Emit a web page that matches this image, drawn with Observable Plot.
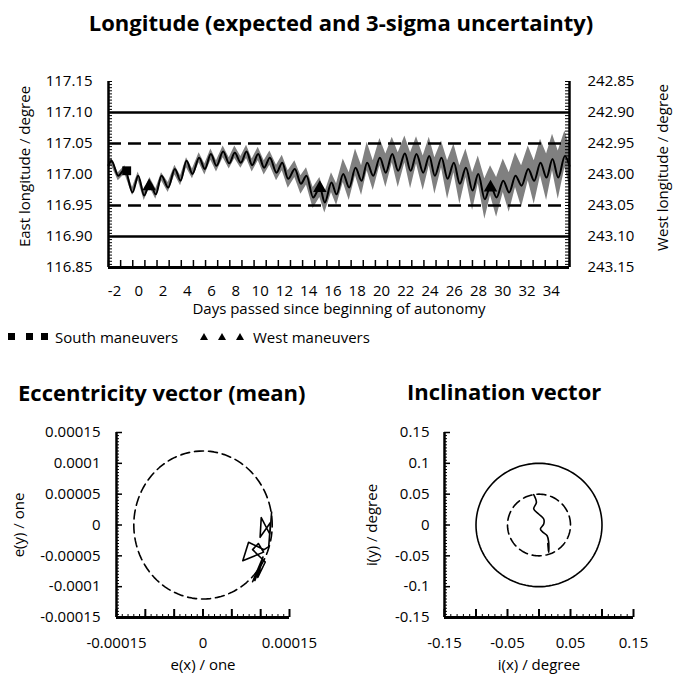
<!DOCTYPE html>
<html><head><meta charset="utf-8">
<script src="https://cdn.jsdelivr.net/npm/d3@7"></script>
<script src="https://cdn.jsdelivr.net/npm/@observablehq/plot@0.6"></script>
<style>
body{margin:0;background:#fff;}
#root{position:relative;width:688px;height:686px;overflow:hidden;font-family:"Open Sans",sans-serif;color:#000;background:#fff;}
.abs{position:absolute;white-space:nowrap;}
.title{font-weight:700;font-size:22px;line-height:26px;}
.leg{font-size:15px;line-height:18px;}
.sq{position:absolute;width:7px;height:7px;background:#000;}
.tri{position:absolute;width:0;height:0;border-left:4px solid transparent;border-right:4px solid transparent;border-bottom:7px solid #000;}
</style></head><body><div id="root"></div>
<script>
// ---------- Longitude chart data ----------
const days = [-2.5,-2.25,-1.70,-1.15,-0.52,-0.05,0.44,0.91,1.40,1.87,2.42,2.97,3.44,3.93,4.42,4.97,5.44,5.94,6.40,6.95,7.45,7.91,8.41,8.88,9.34,9.84,10.33,10.80,11.35,11.82,12.31,12.86,13.36,13.82,14.37,14.92,15.33,15.88,16.30,16.85,17.34,17.86,18.36,18.82,19.32,19.87,20.36,20.89,21.38,21.93,22.40,22.89,23.44,23.94,24.40,24.95,25.45,25.97,26.46,26.96,27.51,27.98,28.52,28.99,29.49,30.04,30.53,31.05,31.55,32.10,32.59,33.11,33.61,34.10,34.57,35.12,35.5];
const expected = [117.015,117.022,116.998,117.009,116.971,116.998,116.966,116.987,116.968,116.998,116.979,117.009,116.990,117.022,117.001,117.027,117.009,117.033,117.014,117.037,117.018,117.035,117.019,117.037,117.015,117.033,117.011,117.027,117.003,117.019,116.993,117.009,116.985,116.998,116.963,116.979,116.955,116.987,116.968,117.001,116.979,117.011,116.990,117.019,116.998,117.027,117.003,117.033,117.006,117.034,117.006,117.033,117.003,117.030,116.998,117.027,116.993,117.019,116.985,117.011,116.974,117.001,116.960,116.982,116.963,116.990,116.971,116.998,116.982,117.009,116.990,117.019,116.995,117.025,116.995,117.030,117.014];
const upper3s = [117.020,117.027,117.003,117.014,116.979,117.004,116.974,116.995,116.977,117.003,116.987,117.015,116.998,117.027,117.009,117.035,117.017,117.041,117.022,117.046,117.027,117.046,117.029,117.047,117.025,117.044,117.022,117.038,117.015,117.031,117.006,117.022,116.998,117.011,116.979,116.995,116.971,117.003,116.985,117.025,117.003,117.041,117.014,117.052,117.022,117.058,117.033,117.060,117.035,117.062,117.035,117.061,117.030,117.060,117.027,117.054,117.022,117.049,117.014,117.041,117.003,117.030,116.993,117.014,116.995,117.025,117.003,117.035,117.014,117.046,117.022,117.057,117.033,117.065,117.038,117.070,117.046];
const lower3s = [117.009,117.014,116.990,117.001,116.966,116.990,116.958,116.979,116.960,116.990,116.971,116.999,116.982,117.011,116.993,117.019,116.999,117.023,117.004,117.027,117.009,117.026,117.010,117.026,117.004,117.022,116.999,117.015,116.990,117.006,116.978,116.995,116.968,116.983,116.945,116.963,116.938,116.971,116.950,116.987,116.958,116.998,116.966,117.006,116.974,117.014,116.979,117.019,116.979,117.019,116.977,117.017,116.974,117.014,116.968,117.011,116.960,117.003,116.952,116.995,116.942,116.985,116.928,116.966,116.931,116.971,116.939,116.979,116.947,116.990,116.952,116.998,116.958,117.006,116.960,117.011,116.982];
const southDays = [-1];
const southLon = [117.006];
const westDays = [0.85, 14.92, 28.99];
const westLon = [116.981, 116.978, 116.979];
const solidLevels = [117.10, 116.90];
const dashedLevels = [117.05, 116.95];
const eastTicks = [117.15,117.10,117.05,117.00,116.95,116.90,116.85];
const eastLabels = ["117.15","117.10","117.05","117.00","116.95","116.90","116.85"];
const westLabels = ["242.85","242.90","242.95","243.00","243.05","243.10","243.15"];
const dayTicks = [-2,0,2,4,6,8,10,12,14,16,18,20,22,24,26,28,30,32,34];
const dayLabels = ["-2","0","2","4","6","8","10","12","14","16","18","20","22","24","26","28","30","32","34"];

// ---------- Eccentricity data ----------
const eccX = [0.000119,0.000116,0.000101,0.000099,0.000117,0.000114,0.000106,0.000079,0.000069,0.000105,0.000096,0.000086,0.000108,0.000095,0.000104,0.000086,0.000100,0.000090];
const eccY = [0.000021,-0.000015,0.000012,-0.000020,0.000004,-0.000035,-0.000040,-0.000028,-0.000058,-0.000044,-0.000030,-0.000040,-0.000060,-0.000085,-0.000052,-0.000092,-0.000065,-0.000090];
const eccRadius = 0.00012;
const eccYTicks = [0.00015,0.0001,0.00005,0,-0.00005,-0.0001,-0.00015];
const eccYLabels = ["0.00015","0.0001","0.00005","0","-0.00005","-0.0001","-0.00015"];
const eccXTicks = [-0.00015,0,0.00015];
const eccXLabels = ["-0.00015","0","0.00015"];

// ---------- Inclination data ----------
const incX = [-0.0084,-0.0041,-0.0084,-0.0005,0.0075,0.0075,0.0022,0.0065,0.0129,0.0154,0.0154,0.0140,0.0150];
const incY = [0.0492,0.0367,0.0260,0.0179,0.0097,0.0016,-0.0065,-0.0120,-0.0174,-0.0282,-0.0445,-0.0300,-0.0420];
const incOuterRadius = 0.1;
const incInnerRadius = 0.05;
const incYTicks = [0.15,0.1,0.05,0,-0.05,-0.1,-0.15];
const incYLabels = ["0.15","0.1","0.05","0","-0.05","-0.1","-0.15"];
const incXTicks = [-0.15,-0.05,0.05,0.15];
const incXLabels = ["-0.15","-0.05","0.05","0.15"];

// ---------- build ----------
const FONT = "'Open Sans', sans-serif";
const FS = 15;
const root = document.getElementById("root");
function place(el, left, top){ el.style.position="absolute"; el.style.left=left+"px"; el.style.top=top+"px"; root.appendChild(el); }
function div(cls, text, left, top){ const d=document.createElement("div"); d.className="abs "+cls; d.textContent=text; d.style.left=left+"px"; d.style.top=top+"px"; root.appendChild(d); return d; }
const lab = (ticks, labels) => d => labels[ticks.indexOf(d)];

const series = days.map((d,i)=>({day:d, mid:expected[i], hi:upper3s[i], lo:lower3s[i]}));
const south = southDays.map((d,i)=>({day:d, lon:southLon[i]}));
const west = westDays.map((d,i)=>({day:d, lon:westLon[i]}));
const xDom = [-2.5, 35.5], yDom = [116.85, 117.15];
const dayBounds = d3.range(xDom[0], xDom[1] + 0.01, 1);
const lonMinor = d3.range(0, 61).map(k => 116.85 + k*0.005);

// Top chart frame: x 108..569, y 81..267
const T = {w:688, h:290, ml:108, mr:119, mt:41, mb:63};
const tW = T.w - T.ml - T.mr, tH = T.h - T.mt - T.mb;
const topSvg = Plot.plot({
  width:T.w, height:T.h, marginLeft:T.ml, marginRight:T.mr, marginTop:T.mt, marginBottom:T.mb,
  style:{fontFamily:FONT, fontSize:FS+"px", color:"#000", background:"transparent", overflow:"visible"},
  x:{domain:xDom, axis:null}, y:{domain:yDom, axis:null},
  marks:[
    Plot.areaY(series, {x:"day", y1:"lo", y2:"hi", fill:"#808080", curve:"linear"}),
    Plot.ruleY(solidLevels, {stroke:"#000", strokeWidth:2.5}),
    Plot.ruleY(dashedLevels, {stroke:"#000", strokeWidth:2.5, strokeDasharray:"13,7"}),
    Plot.line(series, {x:"day", y:"mid", stroke:"#000", strokeWidth:2, curve:"monotone-x"}),
    Plot.dot(south, {x:"day", y:"lon", symbol:"square", fill:"#000", stroke:"none", r:5}),
    Plot.dot(west, {x:"day", y:"lon", symbol:"triangle", fill:"#000", stroke:"none", r:5}),
    Plot.tickY(lonMinor, {y:d=>d, insetRight:tW-4, stroke:"#000", strokeWidth:1}),
    Plot.tickY(lonMinor, {y:d=>d, insetLeft:tW-4, stroke:"#000", strokeWidth:1}),
    Plot.tickX(dayBounds, {x:d=>d, insetTop:tH-7, stroke:"#000", strokeWidth:1.5}),
    Plot.ruleX(xDom, {stroke:"#000", strokeWidth:2.5}),
    Plot.ruleY([yDom[0]], {stroke:"#000", strokeWidth:3}),
    Plot.axisY(eastTicks, {anchor:"left", tickSize:0, tickPadding:16, label:null, tickFormat:lab(eastTicks,eastLabels), fontSize:FS}),
    Plot.axisY(eastTicks, {anchor:"right", tickSize:0, tickPadding:18, label:null, tickFormat:lab(eastTicks,westLabels), fontSize:FS}),
    Plot.axisX(dayTicks, {anchor:"bottom", tickSize:0, tickPadding:18, label:null, tickFormat:lab(dayTicks,dayLabels), fontSize:FS}),
    Plot.text(["Days passed since beginning of autonomy"], {frameAnchor:"bottom", lineAnchor:"middle", dy:42, fontSize:FS}),
    Plot.text(["East longitude / degree"], {frameAnchor:"left", textAnchor:"middle", dx:-83, dy:-8, rotate:-90, fontSize:FS}),
    Plot.text(["West longitude / degree"], {frameAnchor:"right", textAnchor:"middle", dx:94, dy:-7, rotate:-90, fontSize:FS})
  ]
});
place(topSvg, 0, 40);

function circlePts(r){ return d3.range(0, 361, 3).map(a => ({x:r*Math.cos(a*Math.PI/180), y:r*Math.sin(a*Math.PI/180)})); }

function vectorPlot(o){
  const W=344, H=281;
  const pw = W - o.ml - o.mr, ph = H - o.mt - o.mb;
  const marks = [];
  o.circles.forEach(c => marks.push(Plot.line(circlePts(c.r), {x:"x", y:"y", stroke:"#000", strokeWidth:1.6, strokeDasharray:c.dash})));
  marks.push(Plot.line(o.px.map((x,i)=>({x, y:o.py[i]})), {x:"x", y:"y", stroke:"#000", strokeWidth:1.6, curve:o.curve}));
  marks.push(Plot.tickY(o.yMinor, {y:d=>d, insetRight:pw-3, stroke:"#000", strokeWidth:1}));
  marks.push(Plot.tickY(o.yMajor, {y:d=>d, insetRight:pw-6, stroke:"#000", strokeWidth:1.5}));
  marks.push(Plot.tickX(o.xMinor, {x:d=>d, insetTop:ph-3, stroke:"#000", strokeWidth:1}));
  marks.push(Plot.tickX(o.xMajor, {x:d=>d, insetTop:ph-8, stroke:"#000", strokeWidth:2}));
  marks.push(Plot.ruleX([o.dom[0]], {stroke:"#000", strokeWidth:2.5}));
  marks.push(Plot.ruleY([o.dom[0]], {stroke:"#000", strokeWidth:3}));
  marks.push(Plot.axisY(o.yTicks, {anchor:"left", tickSize:0, tickPadding:o.yPad, label:null, tickFormat:lab(o.yTicks,o.yLabels), fontSize:FS}));
  marks.push(Plot.axisX(o.xTicks, {anchor:"bottom", tickSize:0, tickPadding:20, label:null, tickFormat:lab(o.xTicks,o.xLabels), fontSize:FS}));
  marks.push(Plot.text([o.xTitle], {frameAnchor:"bottom", lineAnchor:"middle", dy:48, fontSize:FS}));
  marks.push(Plot.text([o.yTitle], {frameAnchor:"left", textAnchor:"middle", dx:o.yTitleDx, rotate:-90, fontSize:FS}));
  return Plot.plot({
    width:W, height:H, marginLeft:o.ml, marginRight:o.mr, marginTop:o.mt, marginBottom:o.mb,
    style:{fontFamily:FONT, fontSize:FS+"px", color:"#000", background:"transparent", overflow:"visible"},
    x:{domain:o.dom, axis:null}, y:{domain:o.dom, axis:null},
    marks
  });
}

const eccSvg = vectorPlot({
  ml:116, mr:55, mt:27, mb:69, dom:[-0.00015,0.00015],
  circles:[{r:eccRadius, dash:"9,5"}], px:eccX, py:eccY, curve:"linear",
  yMinor:d3.range(0,61).map(k=>-0.00015+k*0.000005), yMajor:d3.range(0,7).map(k=>-0.00015+k*0.00005),
  xMinor:d3.range(0,31).map(k=>-0.00015+k*0.00001), xMajor:d3.range(0,7).map(k=>-0.00015+k*0.00005),
  yTicks:eccYTicks, yLabels:eccYLabels, xTicks:eccXTicks, xLabels:eccXLabels, yPad:16,
  xTitle:"e(x) / one", yTitle:"e(y) / one", yTitleDx:-97
});
place(eccSvg, 0, 405);

const incSvg = vectorPlot({
  ml:100, mr:55, mt:27, mb:69, dom:[-0.15,0.15],
  circles:[{r:incOuterRadius, dash:null}, {r:incInnerRadius, dash:"9,5"}], px:incX, py:incY, curve:"catmull-rom",
  yMinor:d3.range(0,61).map(k=>-0.15+k*0.005), yMajor:d3.range(0,7).map(k=>-0.15+k*0.05),
  xMinor:d3.range(0,31).map(k=>-0.15+k*0.01), xMajor:d3.range(0,7).map(k=>-0.15+k*0.05),
  yTicks:incYTicks, yLabels:incYLabels, xTicks:incXTicks, xLabels:incXLabels, yPad:15,
  xTitle:"i(x) / degree", yTitle:"i(y) / degree", yTitleDx:-72
});
place(incSvg, 344, 405);

// titles
const t1 = div("title", "Longitude (expected and 3-sigma uncertainty)", 0, 9);
t1.style.width="682px"; t1.style.textAlign="center";
div("title", "Eccentricity vector (mean)", 18, 379);
div("title", "Inclination vector", 407, 378);

// legend
[8, 26, 41].forEach(x => { const s=document.createElement("div"); s.className="sq"; place(s, x, 333); });
div("leg", "South maneuvers", 55, 328);
[200, 218, 236].forEach(x => { const s=document.createElement("div"); s.className="tri"; place(s, x, 333); });
div("leg", "West maneuvers", 253, 328);
</script></body></html>
